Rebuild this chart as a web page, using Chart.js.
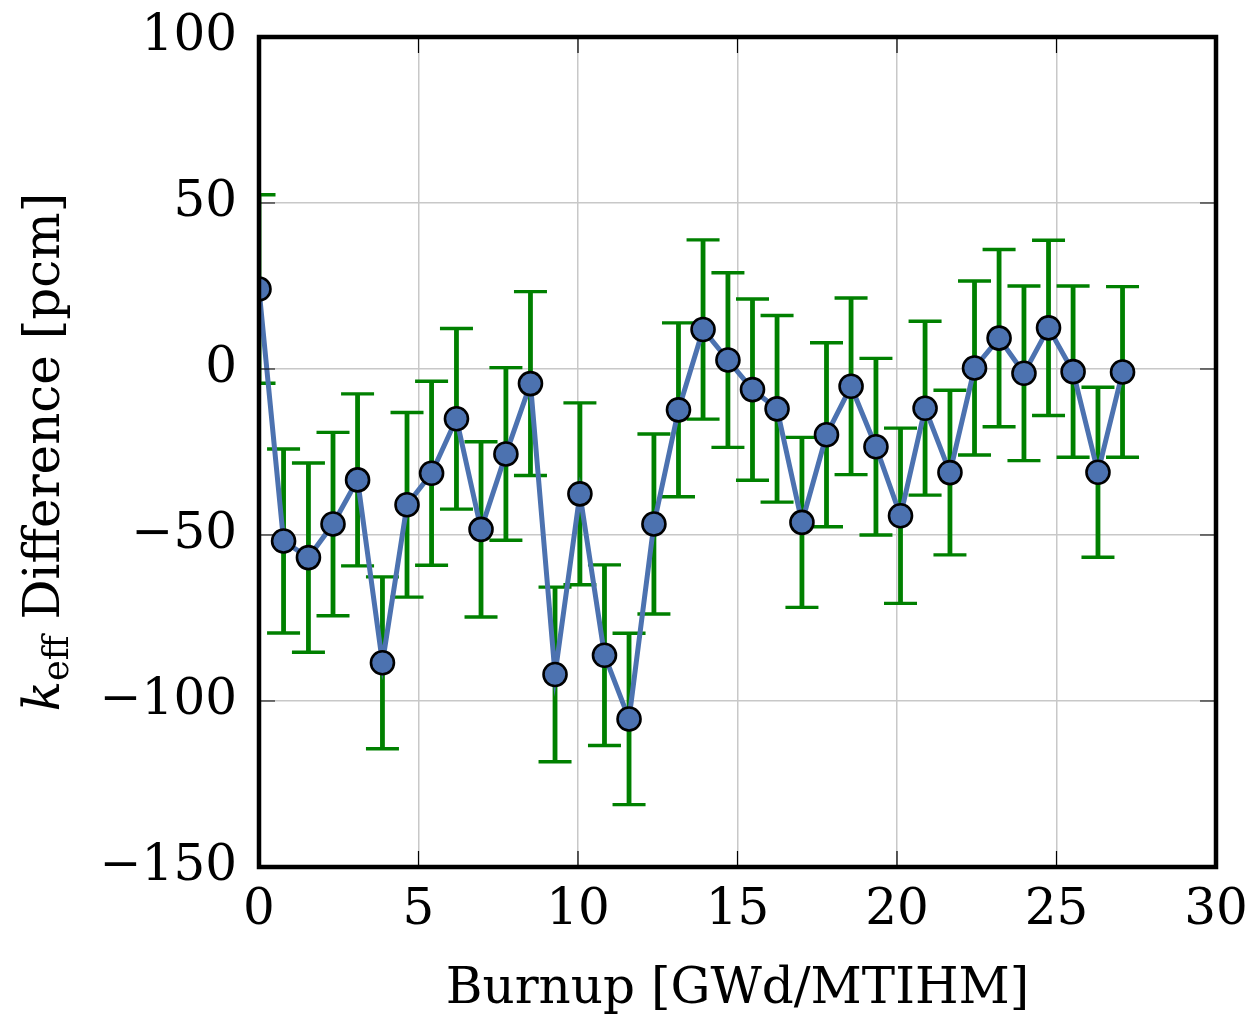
<!DOCTYPE html>
<html>
<head>
<meta charset="utf-8">
<script src="https://cdn.jsdelivr.net/npm/chart.js@4.4.1/dist/chart.umd.min.js"></script>
<style>
  body { margin: 0; background: #fff; }
  canvas { display: block; }
</style>
</head>
<body>
<canvas id="kChart" width="1252" height="1016"></canvas>
<script>
// burnup steps [GWd/MTIHM]
const burnup = [0, 0.77, 1.55, 2.32, 3.09, 3.87, 4.64, 5.41, 6.19, 6.96, 7.74, 8.51,
  9.28, 10.06, 10.83, 11.60, 12.38, 13.15, 13.92, 14.70, 15.47, 16.24, 17.02, 17.79,
  18.56, 19.34, 20.11, 20.88, 21.66, 22.43, 23.20, 23.98, 24.75, 25.52, 26.30, 27.07];
// keff difference [pcm]
const keffDiff = [24.1, -51.8, -56.8, -46.7, -33.4, -88.5, -40.9, -31.4, -15.0, -48.3, -25.6, -4.4,
  -92.0, -37.6, -86.2, -105.4, -46.7, -12.3, 11.9, 2.7, -6.2, -12.0, -46.2, -19.8,
  -5.2, -23.4, -44.2, -11.8, -31.2, 0.3, 9.3, -1.3, 12.4, -0.8, -31.1, -0.9];
// 1 sigma uncertainty [pcm]
const keffErr = [28.4, 27.7, 28.5, 27.6, 25.9, 25.9, 27.8, 27.7, 27.2, 26.4, 26.0, 27.7,
  26.3, 27.4, 27.2, 25.8, 27.1, 26.2, 27.0, 26.3, 27.3, 28.1, 25.6, 27.7,
  26.6, 26.6, 26.4, 26.2, 24.8, 26.2, 26.7, 26.3, 26.4, 25.8, 25.6, 25.7];
const xTicks = [0, 5, 10, 15, 20, 25, 30];
const yTicks = [-150, -100, -50, 0, 50, 100];

const FONT = '"DejaVu Serif", "Liberation Serif", serif';

const points = burnup.map((b, i) => ({ x: b, y: keffDiff[i] }));

// green error bars under the line
const errorBars = {
  id: 'errorBars',
  beforeDatasetsDraw(chart) {
    const { ctx, chartArea, scales } = chart;
    ctx.save();
    ctx.beginPath();
    ctx.rect(chartArea.left, chartArea.top, chartArea.right - chartArea.left, chartArea.bottom - chartArea.top);
    ctx.clip();
    ctx.strokeStyle = '#008000';
    ctx.lineCap = 'butt';
    burnup.forEach((b, i) => {
      const px = scales.x.getPixelForValue(b);
      const top = scales.y.getPixelForValue(keffDiff[i] + keffErr[i]);
      const bot = scales.y.getPixelForValue(keffDiff[i] - keffErr[i]);
      ctx.lineWidth = 4.8;
      ctx.beginPath();
      ctx.moveTo(px, top);
      ctx.lineTo(px, bot);
      ctx.stroke();
      ctx.lineWidth = 3.4;
      ctx.beginPath();
      ctx.moveTo(px - 16.5, top);
      ctx.lineTo(px + 16.5, top);
      ctx.moveTo(px - 16.5, bot);
      ctx.lineTo(px + 16.5, bot);
      ctx.stroke();
    });
    ctx.restore();
  }
};

// frame, inward ticks and axis titles
const frame = {
  id: 'frame',
  afterDraw(chart) {
    const { ctx, chartArea, scales } = chart;
    const { left, right, top, bottom } = chartArea;
    ctx.save();
    ctx.strokeStyle = '#000';
    ctx.lineWidth = 1.2;
    ctx.beginPath();
    xTicks.forEach(v => {
      const px = scales.x.getPixelForValue(v);
      ctx.moveTo(px, bottom);
      ctx.lineTo(px, bottom - 16);
      ctx.moveTo(px, top);
      ctx.lineTo(px, top + 16);
    });
    yTicks.forEach(v => {
      const py = scales.y.getPixelForValue(v);
      ctx.moveTo(left, py);
      ctx.lineTo(left + 16, py);
      ctx.moveTo(right, py);
      ctx.lineTo(right - 16, py);
    });
    ctx.stroke();

    ctx.lineWidth = 4.5;
    ctx.strokeRect(left, top, right - left, bottom - top);

    // x title
    ctx.fillStyle = '#000';
    ctx.font = '50px ' + FONT;
    ctx.textAlign = 'center';
    ctx.textBaseline = 'alphabetic';
    ctx.fillText('Burnup [GWd/MTIHM]', (left + right) / 2, 1003);

    // y title: k_eff Difference [pcm]
    ctx.translate(59, (top + bottom) / 2);
    ctx.rotate(-Math.PI / 2);
    ctx.textAlign = 'left';
    const kFont = 'italic 50px ' + FONT;
    const subFont = '35px ' + FONT;
    const mainFont = '50px ' + FONT;
    ctx.font = kFont;
    const wk = ctx.measureText('k').width;
    ctx.font = subFont;
    const ws = ctx.measureText('eff').width;
    ctx.font = mainFont;
    const wm = ctx.measureText(' Difference [pcm]').width;
    let x0 = -(wk + ws + wm) / 2;
    ctx.font = kFont;
    ctx.fillText('k', x0, 0);
    x0 += wk;
    ctx.font = subFont;
    ctx.fillText('eff', x0, 9);
    x0 += ws;
    ctx.font = mainFont;
    ctx.fillText(' Difference [pcm]', x0, 0);
    ctx.restore();
  }
};

const noOverflow = (scale) => {
  scale.paddingTop = 0;
  scale.paddingBottom = 0;
  scale.paddingLeft = 0;
  scale.paddingRight = 0;
};

const config = {
  type: 'line',
  data: {
    datasets: [
      {
        label: 'keff difference',
        data: points,
        borderColor: '#4c72b0',
        borderWidth: 5,
        backgroundColor: '#4c72b0',
        pointRadius: 11.5,
        pointBorderWidth: 2.6,
        pointBorderColor: '#000',
        pointBackgroundColor: '#4c72b0',
        tension: 0,
        clip: 0,
      },
    ],
  },
  options: {
    responsive: false,
    animation: false,
    layout: { padding: { top: 37, right: 36, left: 0, bottom: 0 } },
    plugins: {
      legend: { display: false },
      tooltip: { enabled: false },
    },
    scales: {
      x: {
        type: 'linear',
        min: 0,
        max: 30,
        afterFit: (scale) => { scale.height = 149; noOverflow(scale); },
        afterBuildTicks: (scale) => { scale.ticks = xTicks.map(v => ({ value: v })); },
        grid: { color: '#c8c8c8', lineWidth: 1.5, drawTicks: false },
        border: { display: false },
        ticks: {
          color: '#000',
          padding: 14,
          maxRotation: 0,
          font: { family: FONT, size: 50 },
          callback: (v) => String(v),
        },
      },
      y: {
        type: 'linear',
        min: -150,
        max: 100,
        afterFit: (scale) => { scale.width = 259; noOverflow(scale); },
        afterBuildTicks: (scale) => { scale.ticks = yTicks.map(v => ({ value: v })); },
        grid: { color: '#c8c8c8', lineWidth: 1.5, drawTicks: false },
        border: { display: false },
        ticks: {
          color: '#000',
          padding: 22,
          font: { family: FONT, size: 50 },
          callback: (v) => (v < 0 ? '\u2212' + Math.abs(v) : String(v)),
        },
      },
    },
  },
  plugins: [errorBars, frame],
};

window.kChart = new Chart(document.getElementById('kChart'), config);
</script>
</body>
</html>
